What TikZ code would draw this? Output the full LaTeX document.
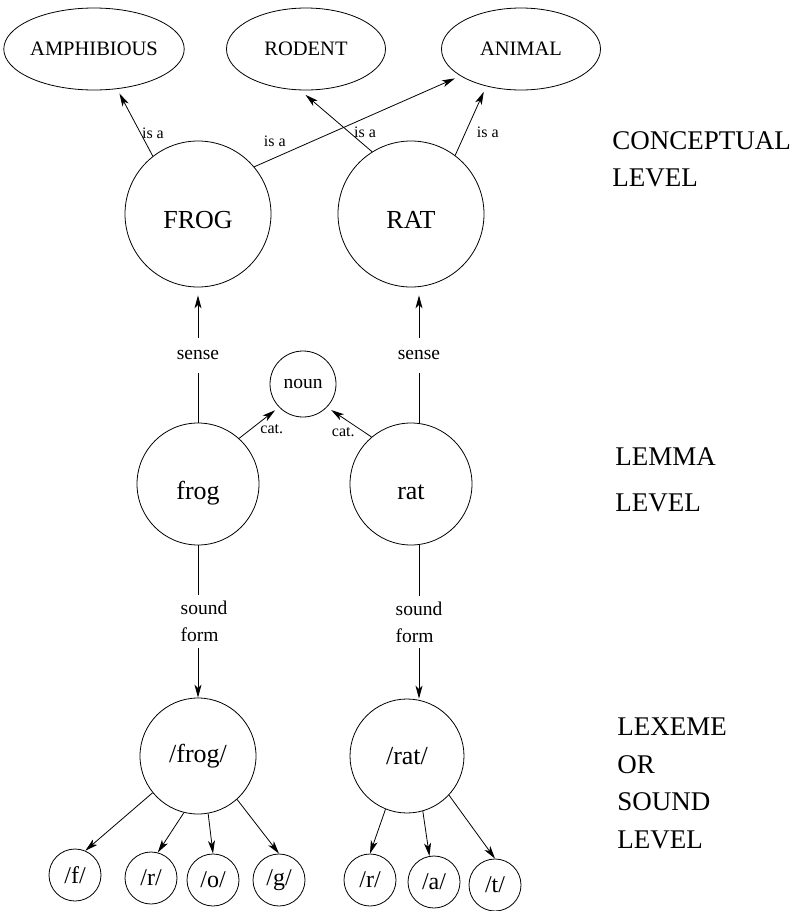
\documentclass[tikz,border=0pt]{standalone}
\usepackage{fontspec}
\setmainfont{Liberation Serif}
\usetikzlibrary{arrows.meta, shapes.geometric}

\begin{document}
\begin{tikzpicture}[x=1pt, y=-1pt, line width=0.8pt,
  >={Stealth[length=13pt,width=7pt,inset=3.5pt]},
  oval/.style={draw, ellipse, minimum width=159pt, minimum height=82pt, inner sep=0pt, font=\fontsize{20.5}{24}\selectfont},
  disc/.style={draw, circle, minimum size=#1, inner sep=0pt, font=\fontsize{26}{30}\selectfont},
  low/.style={text height=#1, text depth=0pt},
  phon/.style={disc=52pt, font=\fontsize{24}{28}\selectfont},
  lab/.style={fill=white, inner xsep=2pt, inner ysep=6pt, minimum height=35pt, align=left, font=\fontsize{19.5}{27}\selectfont},
  isa/.style={inner sep=1pt, font=\fontsize{16}{18}\selectfont},
  tier/.style={inner sep=0pt, anchor=west, align=left, font=\fontsize{27}{#1}\selectfont}]
  \useasboundingbox (0,0) rectangle (801,911);

  \node[oval] (amphib) at (94,49) {AMPHIBIOUS};
  \node[oval] (rodent) at (306,49) {RODENT};
  \node[oval] (animal) at (521,49) {ANIMAL};

  \node[disc=146pt, low=29pt] (cfrog) at (198,214) {FROG};
  \node[disc=146pt, low=29pt] (crat) at (411,214) {RAT};
  \node[disc=66pt, font=\fontsize{19.5}{24}\selectfont] (noun) at (303,384) {noun};
  \node[disc=122pt, low=30pt] (lfrog) at (198,484) {frog};
  \node[disc=122pt, low=30pt] (lrat) at (411,484) {rat};
  \node[disc=116pt] (xfrog) at (198,756) {/frog/};
  \node[disc=114pt] (xrat) at (407,756) {/rat/};

  \node[phon] (ff) at (75,875) {/f/};
  \node[phon] (fr) at (151,878) {/r/};
  \node[phon] (fo) at (213,880) {/o/};
  \node[phon] (fg) at (279,880) {/g/};
  \node[phon] (rr) at (370,880) {/r/};
  \node[phon] (ra) at (434,882) {/a/};
  \node[phon] (rt) at (495,885) {/t/};

  \node[tier=37] (conc) at (612,159.5) {CONCEPTUAL\\LEVEL};
  \node[tier=46] (lemma) at (615,480) {LEMMA\\LEVEL};
  \node[tier=37.6] (lexeme) at (617,783.5) {LEXEME\\OR\\SOUND\\LEVEL};

  \draw[->, shorten >=5pt] (cfrog.128) -- node[pos=.34, right, isa] {is a} (amphib.300);
  \draw[->, shorten >=6pt] (cfrog.40) -- node[pos=.1, above=10pt, isa] {is a} (animal.204);
  \draw[->, shorten >=7pt] (crat.122) -- node[pos=.31, right=3pt, isa] {is a} (rodent.262);
  \draw[->, shorten >=6pt] (crat.53) -- node[pos=.33, right=10pt, isa] {is a} (animal.227);

  \draw[->, shorten >=8pt] (lfrog) -- node[lab] {sense} (cfrog);
  \draw[->, shorten >=8pt] ([xshift=8pt]lrat.north) -- node[lab] {sense} ([xshift=8pt]crat.south);
  \draw[->, shorten >=5pt] (lfrog.48) -- node[pos=.5, below right, isa] {cat.} (noun.224);
  \draw[->, shorten >=5pt] (lrat.130) -- node[pos=.35, below left, isa] {cat.} (noun.316);

  \draw[->] (lfrog) -- node[lab, xshift=6pt] {sound\\form} (xfrog);
  \draw[->] ([xshift=8pt]lrat.south) -- node[lab] {sound\\form} ([xshift=12pt]xrat.north);

  \draw[->] (xfrog.219) -- (ff.67);
  \draw[->] (xfrog.256) -- (fr.75);
  \draw[->] (xfrog.280) -- (fo.north);
  \draw[->] (xfrog.312) -- (fg.north);
  \draw[->] (xrat.248) -- (rr.north);
  \draw[->] (xrat.286) -- (ra.100);
  \draw[->] (xrat.317) -- (rt.north);
\end{tikzpicture}
\end{document}
